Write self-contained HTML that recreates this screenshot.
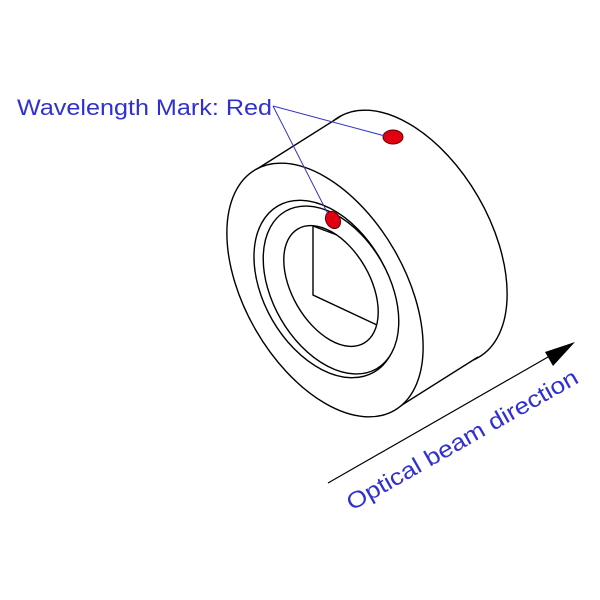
<!DOCTYPE html>
<html><head><meta charset="utf-8"><style>body{margin:0;background:#fff}svg{display:block}</style></head><body>
<svg width="600" height="600" viewBox="0 0 600 600" xmlns="http://www.w3.org/2000/svg">
<g fill="#fff" stroke="#000" stroke-width="1.4">
  <ellipse cx="0" cy="0" rx="80" ry="139" transform="translate(409,237) rotate(-30)"/>
  <polygon points="257,169 341,116 478,357 394,410" stroke="none"/>
  <line x1="257" y1="169" x2="341" y2="116"/>
  <line x1="394" y1="410" x2="478" y2="357"/>
  <ellipse cx="0" cy="0" rx="80" ry="139" transform="translate(325,290) rotate(-30)"/>
  <ellipse cx="0" cy="0" rx="62" ry="96" transform="translate(326,289) rotate(-30)"/>
  <ellipse cx="0" cy="0" rx="58" ry="91" transform="translate(331,290) rotate(-30)"/>
  <ellipse cx="0" cy="0" rx="39" ry="66" transform="translate(331,286) rotate(-30)"/>
  <polyline points="337,235 313,226 313,295 377,325" fill="none"/>
</g>
<ellipse cx="393" cy="137" rx="10" ry="7" fill="#e00010" stroke="#600" stroke-width="1"/>
<ellipse cx="333" cy="220" rx="7" ry="9" fill="#e00010" stroke="#600" stroke-width="1" transform="rotate(-30 333 220)"/>
<g stroke="#3535c0" stroke-width="1">
  <line x1="273" y1="106" x2="385" y2="136"/>
  <line x1="273" y1="106" x2="328" y2="214"/>
</g>
<text x="17" y="115" font-family="Liberation Sans, sans-serif" font-size="22" fill="#3030d0" textLength="255" lengthAdjust="spacingAndGlyphs">Wavelength Mark: Red</text>
<line x1="328" y1="483" x2="555" y2="353" stroke="#000" stroke-width="1.2"/>
<polygon points="575,342 545,352 553,366" fill="#000"/>
<text x="0" y="0" font-family="Liberation Sans, sans-serif" font-size="23" fill="#3030d0" textLength="262" lengthAdjust="spacingAndGlyphs" transform="translate(352,511) rotate(-29.5)">Optical beam direction</text>
</svg>
</body></html>
